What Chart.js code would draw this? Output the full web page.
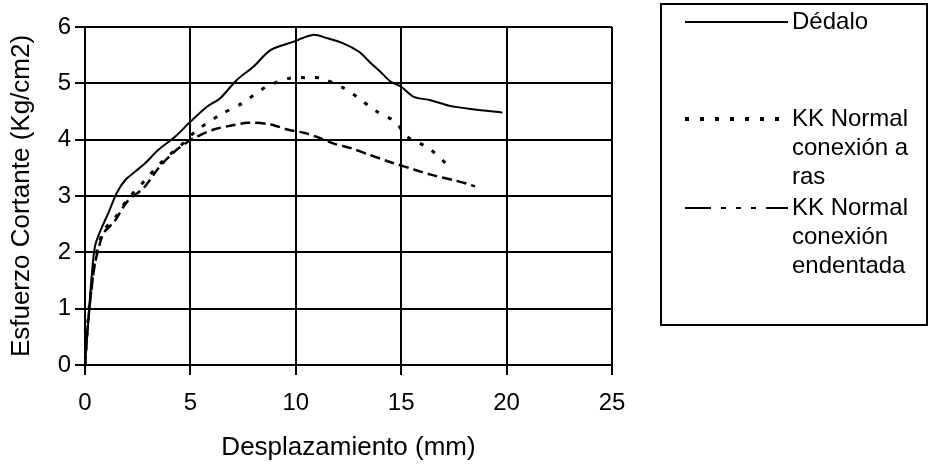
<!DOCTYPE html>
<html>
<head>
<meta charset="utf-8">
<script src="https://cdn.jsdelivr.net/npm/chart.js@4.4.1/dist/chart.umd.min.js"></script>
<style>
  body { margin: 0; background: #fff; }
</style>
</head>
<body>
<canvas id="chart" width="929" height="468"></canvas>
<script>
// values
const dedaloX = [0, 0.1, 0.2, 0.3, 0.47, 0.75, 1.1, 1.5, 1.9, 2.37, 2.85, 3.48, 4.27, 5.0, 5.8, 6.4, 7.2, 8.0, 8.8, 9.9, 10.8, 11.5, 12.25, 13.0, 13.5, 14.0, 14.5, 15.0, 15.6, 16.4, 17.3, 18.4, 19.8];
const dedaloY = [0, 0.5, 1.0, 1.5, 2.1, 2.4, 2.69, 3.05, 3.28, 3.43, 3.58, 3.82, 4.05, 4.32, 4.59, 4.73, 5.06, 5.3, 5.59, 5.74, 5.86, 5.8, 5.71, 5.56, 5.38, 5.21, 5.03, 4.94, 4.76, 4.7, 4.6, 4.54, 4.48];

const rasX = [0, 0.1, 0.25, 0.45, 0.7, 0.9, 1.4, 2.0, 2.9, 3.5, 4.0, 4.5, 5.22, 6.4, 7.43, 8.6, 9.7, 10.5, 11.2, 12.3, 12.9, 13.8, 14.7, 15.3, 16.3, 17.2];
const rasY = [0, 0.6, 1.2, 1.8, 2.2, 2.4, 2.6, 2.93, 3.3, 3.55, 3.73, 3.88, 4.14, 4.44, 4.64, 4.94, 5.09, 5.1, 5.09, 4.91, 4.76, 4.51, 4.32, 4.05, 3.85, 3.55];

const dentX = [0, 0.1, 0.25, 0.45, 0.7, 0.9, 1.4, 2.0, 2.8, 3.5, 4.0, 4.45, 5.14, 6.1, 6.8, 7.75, 8.8, 9.6, 10.4, 11.0, 11.8, 12.6, 13.5, 14.5, 15.6, 16.4, 17.5, 18.1, 18.5];
const dentY = [0, 0.55, 1.15, 1.75, 2.15, 2.35, 2.55, 2.9, 3.15, 3.5, 3.7, 3.85, 4.02, 4.18, 4.24, 4.3, 4.27, 4.18, 4.12, 4.05, 3.93, 3.85, 3.73, 3.6, 3.47, 3.38, 3.28, 3.22, 3.17];

const seriesNames = ['Dédalo', 'KK Normal conexión a ras', 'KK Normal conexión endentada'];
const legendLines = [['Dédalo'], ['KK Normal', 'conexión a', 'ras'], ['KK Normal', 'conexión', 'endentada']];
const xTitle = 'Desplazamiento (mm)';
const yTitle = 'Esfuerzo Cortante (Kg/cm2)';

const FONT = 'Liberation Sans';

function toPoints(xs, ys) {
    return xs.map((x, i) => ({ x: x, y: ys[i] }));
}

// legend is drawn by hand, Excel style: box on the right, wrapped labels
const legendBox = {
    id: 'legendBox',
    afterDraw(chart) {
        const ctx = chart.ctx;
        ctx.save();
        ctx.strokeStyle = '#000';
        ctx.lineWidth = 2;
        ctx.setLineDash([]);
        ctx.strokeRect(661, 4, 266, 321);

        const rowY = [22, 119, 208];
        const dashes = [[], [4, 11], [26, 10, 5, 10, 5, 10, 5, 10]];
        const widths = [2, 4, 2];
        ctx.font = '24px "' + FONT + '"';
        ctx.fillStyle = '#000';
        ctx.textBaseline = 'middle';
        ctx.textAlign = 'left';
        for (let i = 0; i < legendLines.length; i++) {
            ctx.beginPath();
            ctx.setLineDash(dashes[i]);
            ctx.lineWidth = widths[i];
            ctx.moveTo(685, rowY[i]);
            ctx.lineTo(788, rowY[i]);
            ctx.stroke();
            legendLines[i].forEach((t, k) => {
                ctx.fillText(t, 792, rowY[i] + k * 29);
            });
        }
        ctx.restore();
    }
};

var ctx = document.getElementById('chart').getContext('2d');
new Chart(ctx, {
    type: 'scatter',
    data: {
        datasets: [{
            label: seriesNames[0],
            data: toPoints(dedaloX, dedaloY),
            showLine: true,
            borderColor: '#000',
            borderWidth: 2,
            pointRadius: 0,
            tension: 0.3
        }, {
            label: seriesNames[1],
            data: toPoints(rasX, rasY),
            showLine: true,
            borderColor: '#000',
            borderWidth: 3,
            borderDash: [4, 10],
            pointRadius: 0,
            tension: 0.3
        }, {
            label: seriesNames[2],
            data: toPoints(dentX, dentY),
            showLine: true,
            borderColor: '#000',
            borderWidth: 2.5,
            borderDash: [10, 5],
            pointRadius: 0,
            tension: 0.3
        }]
    },
    options: {
        responsive: false,
        animation: false,
        devicePixelRatio: 1,
        layout: {
            padding: { left: 0, top: 27, right: 317, bottom: 0 }
        },
        plugins: {
            legend: { display: false },
            tooltip: { enabled: false }
        },
        scales: {
            x: {
                type: 'linear',
                min: 0,
                max: 25,
                ticks: {
                    stepSize: 5,
                    color: '#000',
                    padding: 14,
                    font: { family: FONT, size: 24 }
                },
                grid: { color: '#000', lineWidth: 2, tickLength: 10 },
                border: { color: '#000', width: 2 },
                title: {
                    display: true,
                    text: xTitle,
                    color: '#000',
                    font: { family: FONT, size: 26 },
                    padding: { top: 0, bottom: 5 }
                },
                afterFit: (scale) => { scale.height = 103; }
            },
            y: {
                min: 0,
                max: 6,
                ticks: {
                    stepSize: 1,
                    color: '#000',
                    padding: 4,
                    font: { family: FONT, size: 24 }
                },
                grid: { color: '#000', lineWidth: 2, tickLength: 10 },
                border: { color: '#000', width: 2 },
                title: {
                    display: true,
                    text: yTitle,
                    color: '#000',
                    font: { family: FONT, size: 26 },
                    padding: { top: 6, bottom: 0 }
                },
                afterFit: (scale) => { scale.width = 85; }
            }
        }
    },
    plugins: [legendBox]
});
</script>
</body>
</html>
